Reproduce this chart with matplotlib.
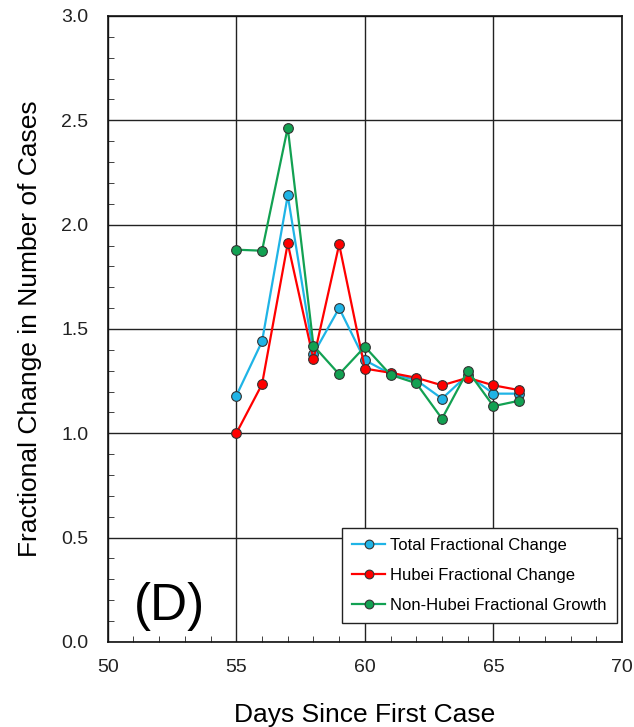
import matplotlib.pyplot as plt
from matplotlib.ticker import MultipleLocator

plt.rcParams['font.family'] = ['Liberation Sans', 'DejaVu Sans']

days = [55, 56, 57, 58, 59, 60, 61, 62, 63, 64, 65, 66]
total = [1.18, 1.44, 2.14, 1.38, 1.60, 1.35, 1.285, 1.255, 1.166, 1.28, 1.19, 1.19]
hubei = [1.00, 1.235, 1.91, 1.355, 1.905, 1.31, 1.29, 1.266, 1.23, 1.266, 1.23, 1.207]
non_hubei = [1.88, 1.875, 2.465, 1.42, 1.283, 1.415, 1.28, 1.24, 1.07, 1.30, 1.13, 1.156]

fig = plt.figure(figsize=(6.34, 7.27), dpi=100)
ax = fig.add_axes([0.170, 0.117, 0.811, 0.861])

ax.plot(days, total, color='#1fb4e6', lw=1.6, marker='o', ms=7,
        mfc='#1fb4e6', mec='#333333', mew=0.8, label='Total Fractional Change', zorder=3)
ax.plot(days, hubei, color='#ff0000', lw=1.6, marker='o', ms=7,
        mfc='#ff0000', mec='#333333', mew=0.8, label='Hubei Fractional Change', zorder=3)
ax.plot(days, non_hubei, color='#12a152', lw=1.6, marker='o', ms=7,
        mfc='#12a152', mec='#333333', mew=0.8, label='Non-Hubei Fractional Growth', zorder=3)

ax.set_xlim(50, 70)
ax.set_ylim(0, 3.0)
ax.xaxis.set_major_locator(MultipleLocator(5))
ax.xaxis.set_minor_locator(MultipleLocator(1))
ax.yaxis.set_major_locator(MultipleLocator(0.5))
ax.yaxis.set_minor_locator(MultipleLocator(0.1))
ax.yaxis.set_major_formatter(plt.FormatStrFormatter('%.1f'))
ax.tick_params(which='both', direction='in', color='#222222')
ax.tick_params(which='major', length=0, labelsize=14, labelcolor='#222222')
ax.tick_params(axis='y', which='major', pad=14)
ax.tick_params(axis='x', which='major', pad=12)
ax.tick_params(which='minor', length=4)
ax.grid(True, which='major', color='#222222', lw=1.0)
for s in ax.spines.values():
    s.set_color('#111111')
    s.set_linewidth(1.2)

ax.set_xlabel('Days Since First Case', fontsize=19, labelpad=20)
ax.set_ylabel('Fractional Change in Number of Cases', fontsize=19, labelpad=14)

ax.text(52.4, 0.105, '(D)', fontsize=37, ha='center', va='baseline')

leg = ax.legend(loc='lower right', bbox_to_anchor=(0.99, 0.03), borderaxespad=0,
                fontsize=12, fancybox=False, framealpha=1, edgecolor='#222222',
                handlelength=2.0, handletextpad=0.3, labelspacing=0.9,
                borderpad=0.6, markerscale=0.9)
leg.get_frame().set_linewidth(1.0)

fig.savefig('out.png', dpi=100)
